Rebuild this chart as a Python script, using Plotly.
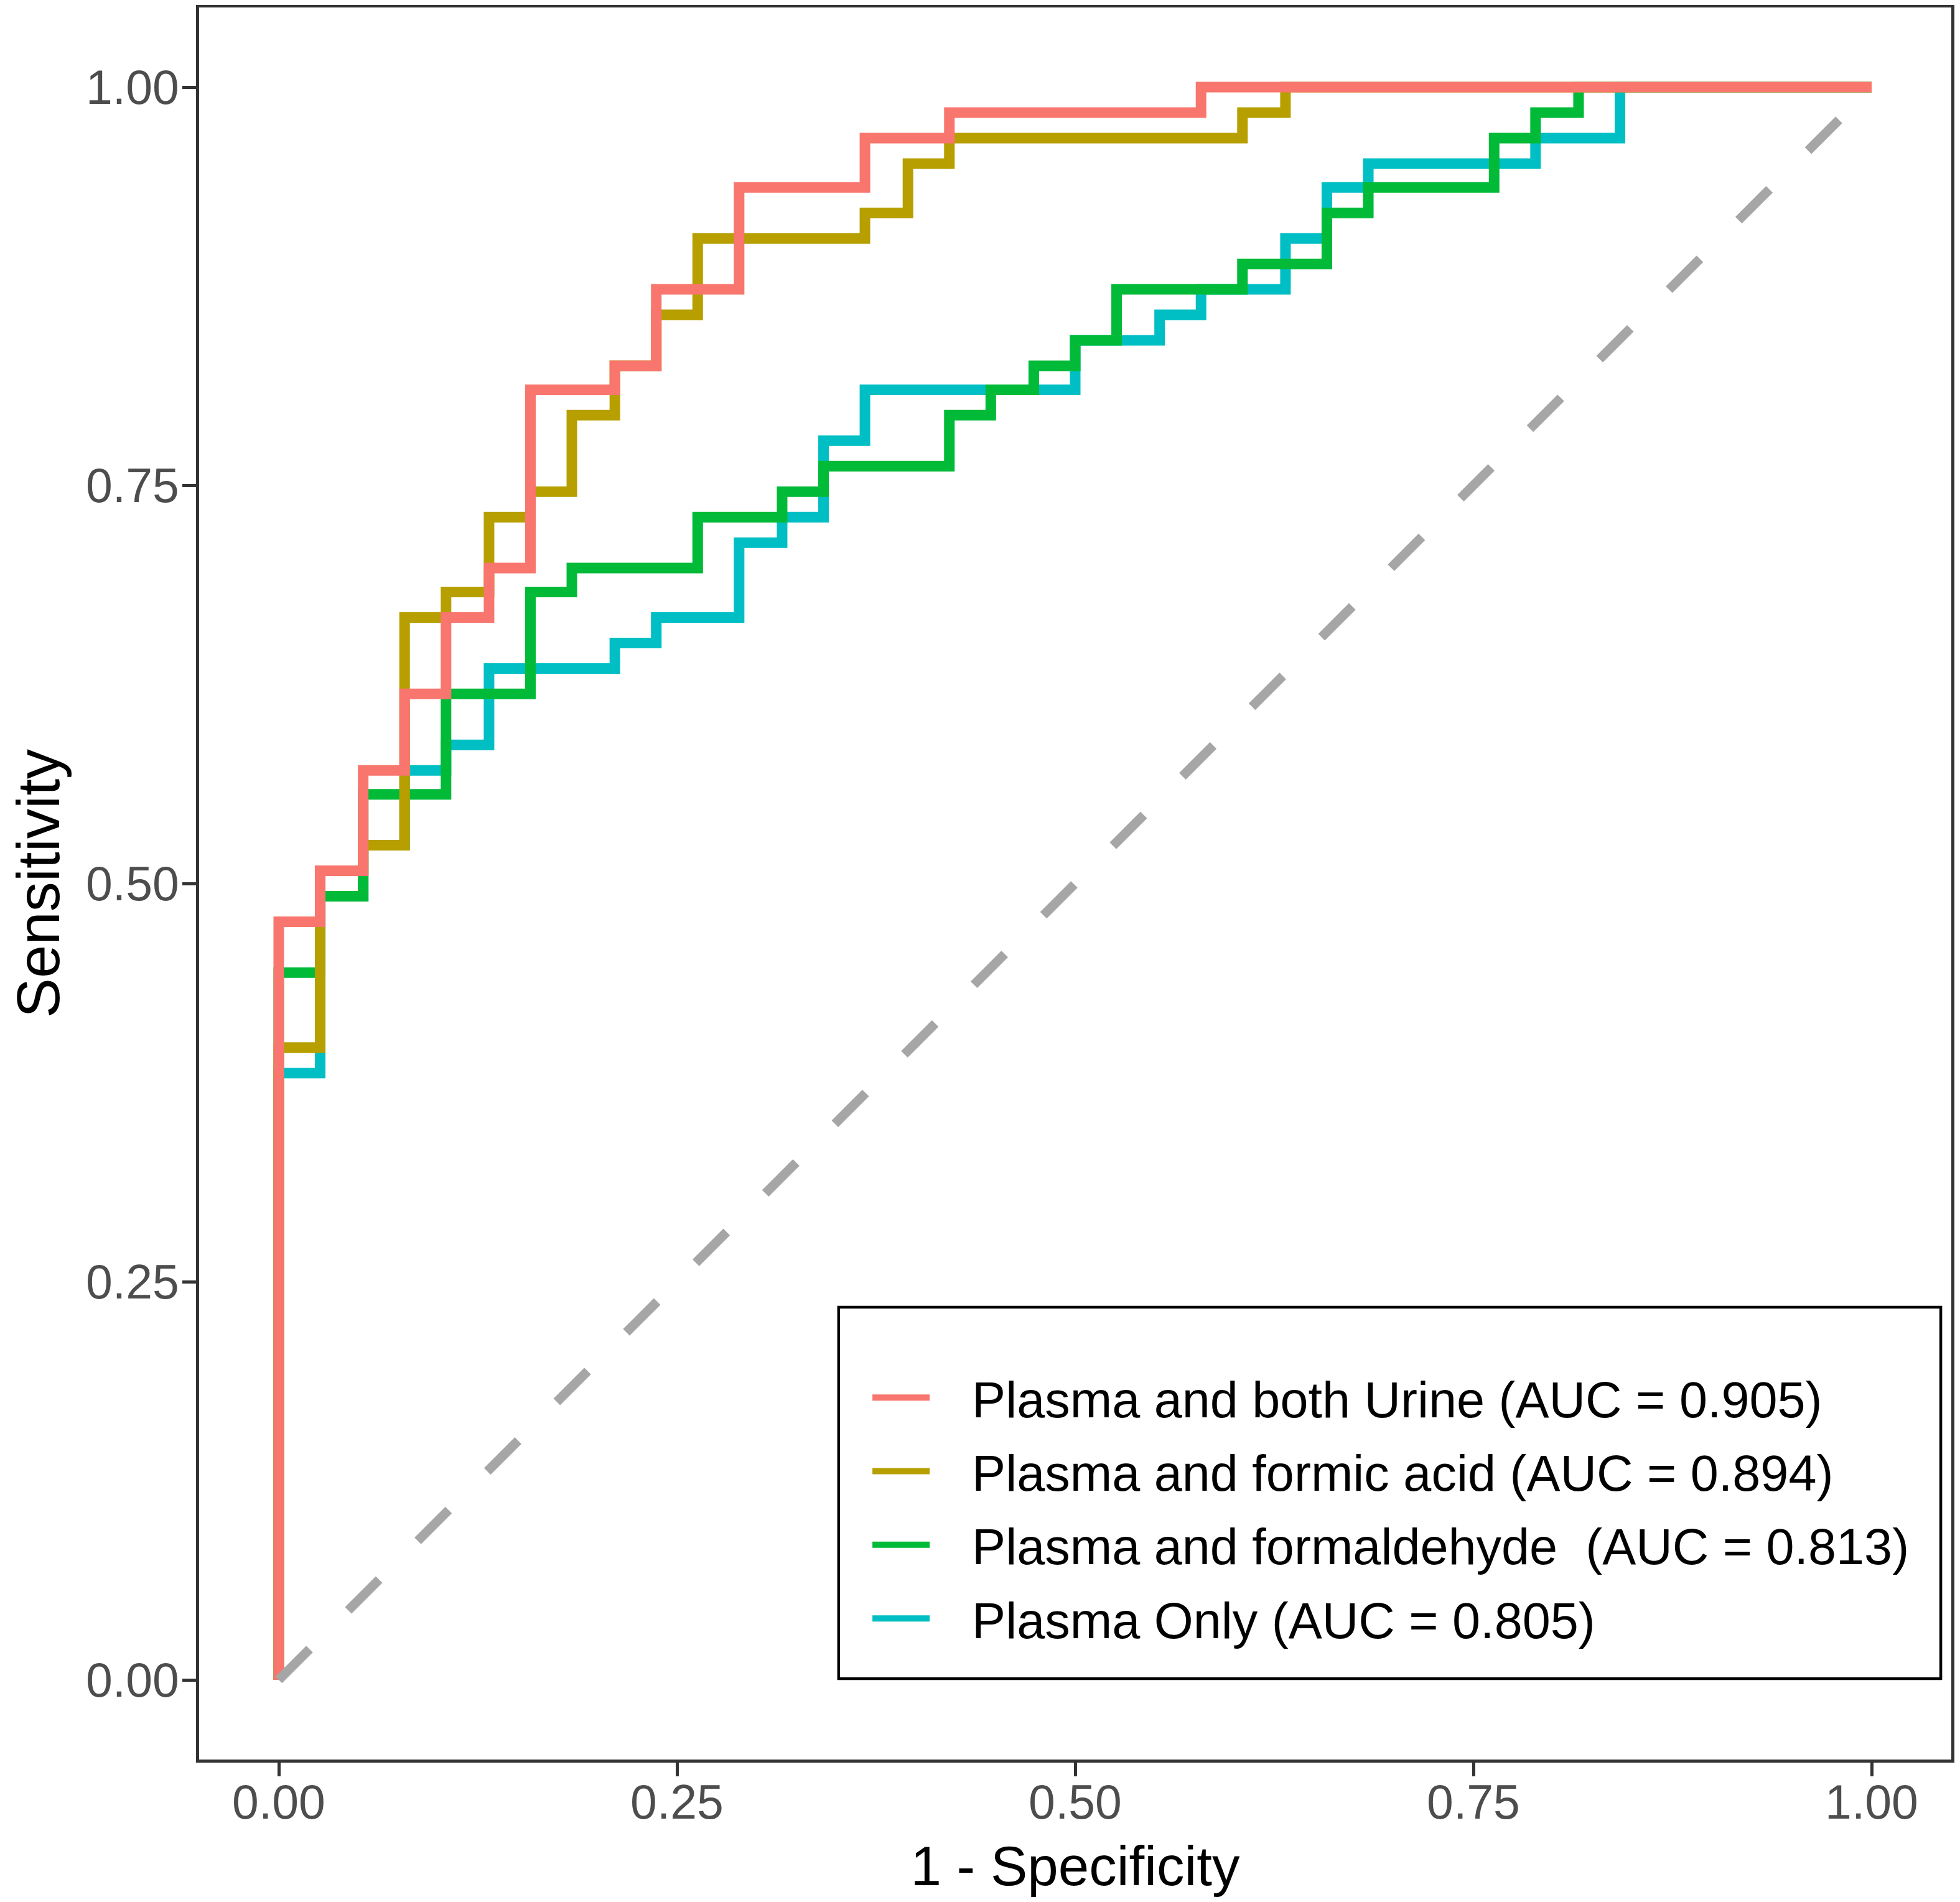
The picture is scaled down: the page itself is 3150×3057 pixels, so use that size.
import plotly.graph_objects as go

# ROC step corners (1 - specificity, sensitivity)
urine_fpr = [0, 0, 0.026, 0.053, 0.079, 0.105, 0.132, 0.158, 0.211, 0.237, 0.289, 0.368, 0.421, 0.579, 1]
urine_tpr = [0, 0.476, 0.508, 0.571, 0.619, 0.667, 0.698, 0.810, 0.825, 0.873, 0.937, 0.968, 0.984, 1, 1]

formic_fpr = [0, 0, 0.026, 0.053, 0.079, 0.105, 0.132, 0.158, 0.184, 0.211, 0.237, 0.263, 0.368, 0.395,
              0.421, 0.605, 0.632, 1]
formic_tpr = [0, 0.397, 0.508, 0.524, 0.667, 0.683, 0.730, 0.746, 0.794, 0.825, 0.857, 0.905, 0.921, 0.952,
              0.968, 0.984, 1, 1]

formald_fpr = [0, 0, 0.026, 0.053, 0.105, 0.158, 0.184, 0.263, 0.316, 0.342, 0.421, 0.447, 0.474, 0.5,
               0.526, 0.605, 0.658, 0.684, 0.763, 0.789, 0.816, 1]
formald_tpr = [0, 0.444, 0.492, 0.556, 0.619, 0.683, 0.698, 0.730, 0.746, 0.762, 0.794, 0.810, 0.825, 0.841,
               0.873, 0.889, 0.921, 0.937, 0.968, 0.984, 1, 1]

plasma_fpr = [0, 0, 0.026, 0.053, 0.079, 0.105, 0.132, 0.211, 0.237, 0.289, 0.316, 0.342, 0.368, 0.5,
              0.553, 0.579, 0.632, 0.658, 0.684, 0.789, 0.842, 1]
plasma_tpr = [0, 0.381, 0.492, 0.524, 0.571, 0.587, 0.635, 0.651, 0.667, 0.714, 0.730, 0.778, 0.810, 0.841,
              0.857, 0.873, 0.905, 0.937, 0.952, 0.968, 1, 1]

names = ["Plasma and both Urine (AUC = 0.905)",
         "Plasma and formic acid (AUC = 0.894)",
         "Plasma and formaldehyde  (AUC = 0.813)",
         "Plasma Only (AUC = 0.805)"]
colors = ["#F8766D", "#B79F00", "#00BA38", "#00BFC4"]

tick_vals = [0, 0.25, 0.5, 0.75, 1]
tick_text = ["0.00", "0.25", "0.50", "0.75", "1.00"]

FONT = "Liberation Sans, Arial, sans-serif"

curves = [(urine_fpr, urine_tpr), (formic_fpr, formic_tpr), (formald_fpr, formald_tpr), (plasma_fpr, plasma_tpr)]

fig = go.Figure()

# draw bottom to top: plasma only, formaldehyde, formic acid, both urine
for i in [3, 2, 1, 0]:
    x, y = curves[i]
    fig.add_trace(go.Scatter(x=x, y=y, mode='lines', line_shape='hv', name='\u2002 ' + names[i],
                             line=dict(color=colors[i], width=17),
                             legendrank=i + 1, legendgroup=str(i)))

fig.add_trace(go.Scatter(x=[0, 1], y=[0, 1], mode='lines', showlegend=False,
                         line=dict(color='#A6A6A6', width=15, dash='70px,88px')))

axis_style = dict(range=[-0.05, 1.05], tickvals=tick_vals, ticktext=tick_text,
                  showgrid=False, zeroline=False, ticks='outside', ticklen=22, tickwidth=4.5,
                  tickcolor='#333333', showline=True, linecolor='#333333', linewidth=4.5, mirror=True,
                  tickfont=dict(family=FONT, size=77, color='#4D4D4D'), automargin=False)

fig.update_xaxes(**axis_style, ticklabelstandoff=-24,
                 title=dict(text='1 - Specificity', font=dict(family=FONT, size=89, color='black'), standoff=31))
fig.update_yaxes(**axis_style, ticklabelstandoff=-10,
                 title=dict(text='Sensitivity', font=dict(family=FONT, size=96, color='black'), standoff=26))

# legend frame
fig.add_shape(type='rect', xref='paper', yref='paper', x0=0.365, x1=0.994, y0=0.0462, y1=0.2582,
              line=dict(color='black', width=4.5), fillcolor='rgba(0,0,0,0)')

fig.update_layout(
    width=3150, height=3057,
    margin=dict(l=312, r=22, t=4, b=237),
    plot_bgcolor='white', paper_bgcolor='white',
    font=dict(family=FONT),
    legend=dict(x=0.3825, y=0.2276, xanchor='left', yanchor='top', bgcolor='rgba(0,0,0,0)',
                borderwidth=0, font=dict(family=FONT, size=81, color='black'),
                itemwidth=92, tracegroupgap=10),
)

fig.write_html("out.html")
